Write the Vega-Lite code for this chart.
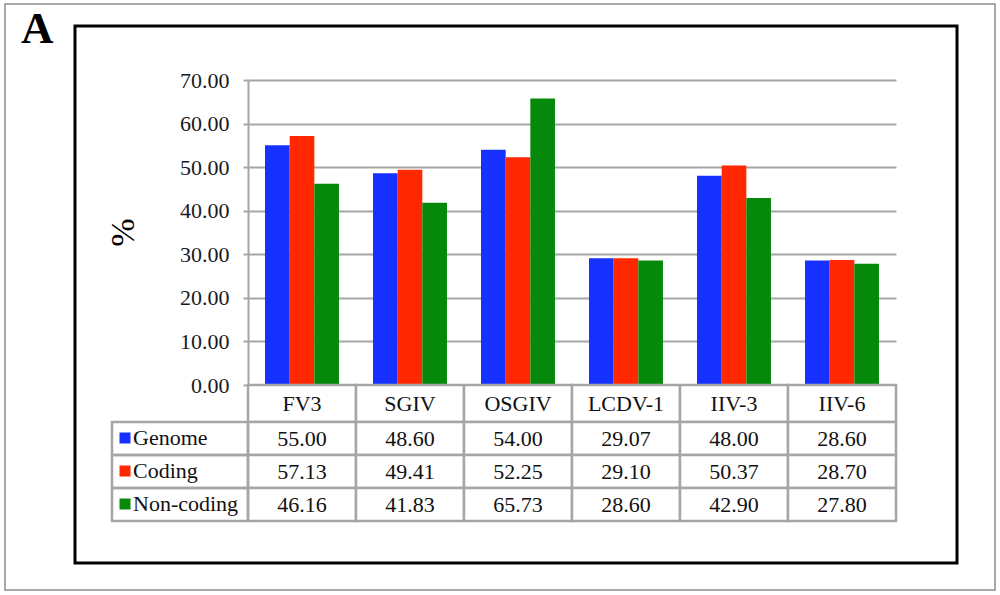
{
  "$schema": "https://vega.github.io/schema/vega-lite/v6.json",
  "width": 882,
  "height": 537,
  "autosize": {"type": "none"},
  "padding": {"left": 75, "top": 26, "right": 43, "bottom": 32},
  "background": "white",
  "title": {
    "text": "A",
    "anchor": "start",
    "frame": "group",
    "font": "Liberation Serif",
    "fontSize": 45,
    "fontWeight": "bold",
    "color": "#000",
    "baseline": "top",
    "offset": 0,
    "dx": -54,
    "dy": 49
  },
  "data": {
    "values": [
      {"virus": "FV3", "series": "Genome", "value": 55.00},
      {"virus": "FV3", "series": "Coding", "value": 57.13},
      {"virus": "FV3", "series": "Non-coding", "value": 46.16},
      {"virus": "SGIV", "series": "Genome", "value": 48.60},
      {"virus": "SGIV", "series": "Coding", "value": 49.41},
      {"virus": "SGIV", "series": "Non-coding", "value": 41.83},
      {"virus": "OSGIV", "series": "Genome", "value": 54.00},
      {"virus": "OSGIV", "series": "Coding", "value": 52.25},
      {"virus": "OSGIV", "series": "Non-coding", "value": 65.73},
      {"virus": "LCDV-1", "series": "Genome", "value": 29.07},
      {"virus": "LCDV-1", "series": "Coding", "value": 29.10},
      {"virus": "LCDV-1", "series": "Non-coding", "value": 28.60},
      {"virus": "IIV-3", "series": "Genome", "value": 48.00},
      {"virus": "IIV-3", "series": "Coding", "value": 50.37},
      {"virus": "IIV-3", "series": "Non-coding", "value": 42.90},
      {"virus": "IIV-6", "series": "Genome", "value": 28.60},
      {"virus": "IIV-6", "series": "Coding", "value": 28.70},
      {"virus": "IIV-6", "series": "Non-coding", "value": 27.80}
    ]
  },
  "layer": [
    {
      "data": {"values": [{"part": "frame"}]},
      "mark": {"type": "rect", "fill": "transparent", "stroke": "#8c8c8c", "strokeWidth": 1.5},
      "encoding": {
        "x": {"field": "part", "type": "nominal", "scale": {"domain": ["frame"], "range": [-70, 920], "padding": 0}, "axis": null},
        "y": {"field": "part", "type": "nominal", "scale": {"domain": ["frame"], "range": [-22, 564], "padding": 0}, "axis": null}
      }
    },
    {
      "mark": {"type": "bar"},
      "encoding": {
        "x": {
          "field": "virus",
          "type": "nominal",
          "scale": {"domain": ["FV3", "SGIV", "OSGIV", "LCDV-1", "IIV-3", "IIV-6"], "range": [173, 821], "paddingInner": 0.315, "paddingOuter": 0.1575},
          "axis": null
        },
        "xOffset": {
          "field": "series",
          "type": "nominal",
          "scale": {"domain": ["Genome", "Coding", "Non-coding"], "paddingInner": 0, "paddingOuter": 0}
        },
        "y": {
          "field": "value",
          "type": "quantitative",
          "scale": {"domain": [0, 70], "range": [359, 54], "nice": false},
          "axis": {
            "values": [0, 10, 20, 30, 40, 50, 60, 70],
            "format": ".2f",
            "offset": -173,
            "grid": true,
            "gridColor": "#a6a6a6",
            "gridWidth": 2,
            "domainColor": "#a6a6a6",
            "domainWidth": 2,
            "tickColor": "#a6a6a6",
            "tickWidth": 2,
            "tickSize": 5,
            "labelFont": "Liberation Serif",
            "labelFontSize": 22,
            "labelColor": "#1a1a1a",
            "labelPadding": 14,
            "title": "%",
            "titleFont": "Liberation Serif",
            "titleFontSize": 34,
            "titleFontWeight": "normal",
            "titleColor": "#000",
            "titleAngle": 270,
            "titleAlign": "center",
            "titleBaseline": "middle",
            "titleX": -125,
            "titleY": 206
          }
        },
        "color": {
          "field": "series",
          "type": "nominal",
          "scale": {"domain": ["Genome", "Coding", "Non-coding"], "range": ["#1630ff", "#ff2800", "#06890a"]},
          "legend": {
            "orient": "none",
            "legendX": 39,
            "legendY": 401,
            "title": null,
            "padding": 0,
            "symbolType": "square",
            "symbolSize": 121,
            "symbolStrokeWidth": 0,
            "symbolOpacity": 1,
            "labelFont": "Liberation Serif",
            "labelFontSize": 22,
            "labelColor": "#111",
            "labelOffset": -3,
            "rowPadding": 11
          }
        }
      }
    },
    {
      "transform": [{"filter": "datum.series === 'Genome'"}],
      "mark": {"type": "rect", "fill": "white", "stroke": "#a6a6a6", "strokeWidth": 2.5},
      "encoding": {
        "x": {"field": "virus", "type": "nominal", "scale": {"type": "band", "domain": ["FV3", "SGIV", "OSGIV", "LCDV-1", "IIV-3", "IIV-6"], "range": [173, 821], "padding": 0}, "axis": null},
        "y": {"datum": "header", "type": "nominal", "scale": {"type": "band", "domain": ["header"], "range": [359, 396], "padding": 0}, "axis": null}
      }
    },
    {
      "transform": [{"filter": "datum.series === 'Genome'"}],
      "mark": {"type": "text", "font": "Liberation Serif", "fontSize": 22, "baseline": "middle", "color": "#111"},
      "encoding": {
        "x": {"field": "virus", "type": "nominal", "scale": {"type": "band", "domain": ["FV3", "SGIV", "OSGIV", "LCDV-1", "IIV-3", "IIV-6"], "range": [173, 821], "padding": 0}, "axis": null},
        "y": {"datum": "header", "type": "nominal", "scale": {"type": "band", "domain": ["header"], "range": [359, 396], "padding": 0}, "axis": null},
        "text": {"field": "virus", "type": "nominal"}
      }
    },
    {
      "mark": {"type": "rect", "fill": "white", "stroke": "#a6a6a6", "strokeWidth": 2.5},
      "encoding": {
        "x": {"field": "virus", "type": "nominal", "scale": {"type": "band", "domain": ["FV3", "SGIV", "OSGIV", "LCDV-1", "IIV-3", "IIV-6"], "range": [173, 821], "padding": 0}, "axis": null},
        "y": {"field": "series", "type": "nominal", "scale": {"type": "band", "domain": ["Genome", "Coding", "Non-coding"], "range": [396, 495], "padding": 0}, "axis": null}
      }
    },
    {
      "mark": {"type": "text", "font": "Liberation Serif", "fontSize": 22, "baseline": "middle", "color": "#111"},
      "encoding": {
        "x": {"field": "virus", "type": "nominal", "scale": {"type": "band", "domain": ["FV3", "SGIV", "OSGIV", "LCDV-1", "IIV-3", "IIV-6"], "range": [173, 821], "padding": 0}, "axis": null},
        "y": {"field": "series", "type": "nominal", "scale": {"type": "band", "domain": ["Genome", "Coding", "Non-coding"], "range": [396, 495], "padding": 0}, "axis": null},
        "text": {"field": "value", "type": "quantitative", "format": ".2f"}
      }
    },
    {
      "transform": [{"filter": "datum.virus === 'FV3'"}],
      "mark": {"type": "rect", "fill": "transparent", "stroke": "#a6a6a6", "strokeWidth": 2.5},
      "encoding": {
        "x": {"datum": "label", "type": "nominal", "scale": {"type": "band", "domain": ["label"], "range": [37, 173], "padding": 0}, "axis": null},
        "y": {"field": "series", "type": "nominal", "scale": {"type": "band", "domain": ["Genome", "Coding", "Non-coding"], "range": [396, 495], "padding": 0}, "axis": null}
      }
    }
  ],
  "resolve": {"scale": {"x": "independent", "y": "independent", "xOffset": "independent"}},
  "config": {
    "view": {"stroke": "#000", "strokeWidth": 3},
    "font": "Liberation Serif"
  }
}
